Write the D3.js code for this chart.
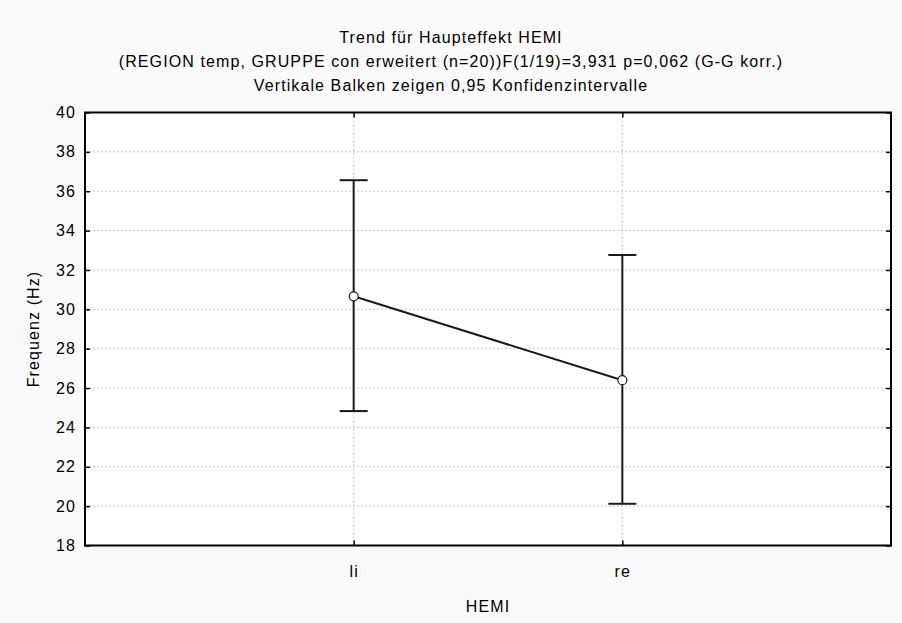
<!DOCTYPE html>
<html>
<head>
<meta charset="utf-8">
<script src="https://cdn.jsdelivr.net/npm/d3@7/dist/d3.min.js"></script>
<style>
  html, body { margin: 0; padding: 0; background: #fafafa; }
  svg { display: block; font-family: "Liberation Sans", Arial, sans-serif; }
  svg text { letter-spacing: 1.1px; }
</style>
</head>
<body>
<svg id="chart" width="902" height="623"></svg>
<script>
const categories = ["li", "re"];
const means = [30.66, 26.40];
const ciUpper = [36.56, 32.76];
const ciLower = [24.83, 20.12];
const yTicks = [18, 20, 22, 24, 26, 28, 30, 32, 34, 36, 38, 40];
const titleLines = [
  "Trend für Haupteffekt HEMI",
  "(REGION temp, GRUPPE con erweitert (n=20))F(1/19)=3,931 p=0,062 (G-G korr.)",
  "Vertikale Balken zeigen 0,95 Konfidenzintervalle"
];
const xTitle = "HEMI";
const yTitle = "Frequenz (Hz)";

const W = 902, H = 623;
const m = { left: 85, right: 11, top: 112.5, bottom: 77.5 };
const FS = 16;
const svg = d3.select("#chart");

svg.append("rect").attr("width", W).attr("height", H).attr("fill", "#fafafa");

const x = d3.scalePoint().domain(categories).range([m.left, W - m.right]).padding(1);
const y = d3.scaleLinear().domain([18, 40]).range([H - m.bottom, m.top]);

svg.append("rect")
  .attr("x", m.left).attr("y", m.top)
  .attr("width", W - m.left - m.right).attr("height", H - m.top - m.bottom)
  .attr("fill", "#ffffff");

// horizontal grid
svg.append("g").selectAll("line").data(yTicks.filter(t => t > 18 && t < 40)).join("line")
  .attr("x1", m.left).attr("x2", W - m.right)
  .attr("y1", d => y(d)).attr("y2", d => y(d))
  .attr("stroke", "#c4c4c4").attr("stroke-width", 1).attr("stroke-dasharray", "2,2");

// vertical grid
svg.append("g").selectAll("line").data(categories).join("line")
  .attr("x1", d => x(d)).attr("x2", d => x(d))
  .attr("y1", m.top).attr("y2", H - m.bottom)
  .attr("stroke", "#c4c4c4").attr("stroke-width", 1).attr("stroke-dasharray", "2,2");

// axes
const yAxisL = d3.axisLeft(y).tickValues(yTicks).tickSize(-5).tickPadding(9).tickFormat(d3.format("d"));
const gL = svg.append("g").attr("transform", `translate(${m.left},0)`).call(yAxisL);
gL.select(".domain").remove();
gL.selectAll("line").attr("stroke", "#000").attr("stroke-width", 1.5);
gL.selectAll("text").attr("font-size", FS).attr("fill", "#000");

const yAxisR = d3.axisRight(y).tickValues(yTicks).tickSize(-5).tickFormat("");
const gR = svg.append("g").attr("transform", `translate(${W - m.right},0)`).call(yAxisR);
gR.select(".domain").remove();
gR.selectAll("line").attr("stroke", "#000").attr("stroke-width", 1.5);

const xAxisB = d3.axisBottom(x).tickSize(-5).tickPadding(20);
const gB = svg.append("g").attr("transform", `translate(0,${H - m.bottom})`).call(xAxisB);
gB.select(".domain").remove();
gB.selectAll("line").attr("stroke", "#000").attr("stroke-width", 1.5);
gB.selectAll("text").attr("font-size", FS).attr("fill", "#000");

const xAxisT = d3.axisTop(x).tickSize(-5).tickFormat("");
const gT = svg.append("g").attr("transform", `translate(0,${m.top})`).call(xAxisT);
gT.select(".domain").remove();
gT.selectAll("line").attr("stroke", "#000").attr("stroke-width", 1.5);

// frame
svg.append("rect")
  .attr("x", m.left).attr("y", m.top)
  .attr("width", W - m.left - m.right).attr("height", H - m.top - m.bottom)
  .attr("fill", "none").attr("stroke", "#000").attr("stroke-width", 2);

// error bars
const data = categories.map((c, i) => ({ c, mean: means[i], hi: ciUpper[i], lo: ciLower[i] }));
const eb = svg.append("g").attr("stroke", "#1a1a1a").attr("stroke-width", 2);
eb.selectAll(".v").data(data).join("line")
  .attr("x1", d => x(d.c)).attr("x2", d => x(d.c))
  .attr("y1", d => y(d.hi)).attr("y2", d => y(d.lo));
eb.selectAll(".ct").data(data).join("line")
  .attr("x1", d => x(d.c) - 14).attr("x2", d => x(d.c) + 14)
  .attr("y1", d => y(d.hi)).attr("y2", d => y(d.hi));
eb.selectAll(".cb").data(data).join("line")
  .attr("x1", d => x(d.c) - 14).attr("x2", d => x(d.c) + 14)
  .attr("y1", d => y(d.lo)).attr("y2", d => y(d.lo));

// mean line
svg.append("path").datum(data)
  .attr("fill", "none").attr("stroke", "#1a1a1a").attr("stroke-width", 2)
  .attr("d", d3.line().x(d => x(d.c)).y(d => y(d.mean)));

svg.append("g").selectAll("circle").data(data).join("circle")
  .attr("cx", d => x(d.c)).attr("cy", d => y(d.mean)).attr("r", 4.5)
  .attr("fill", "#fff").attr("stroke", "#1a1a1a").attr("stroke-width", 1.2);

// titles
svg.append("g").selectAll("text").data(titleLines).join("text")
  .attr("x", W / 2).attr("y", (d, i) => 43 + i * 24)
  .attr("text-anchor", "middle").attr("font-size", FS).attr("fill", "#000")
  .text(d => d);

svg.append("text")
  .attr("x", (m.left + W - m.right) / 2).attr("y", 612)
  .attr("text-anchor", "middle").attr("font-size", FS).attr("fill", "#000")
  .text(xTitle);

svg.append("text")
  .attr("transform", `translate(39,${(m.top + H - m.bottom) / 2}) rotate(-90)`)
  .attr("text-anchor", "middle").attr("font-size", FS).attr("fill", "#000")
  .text(yTitle);
</script>
</body>
</html>
